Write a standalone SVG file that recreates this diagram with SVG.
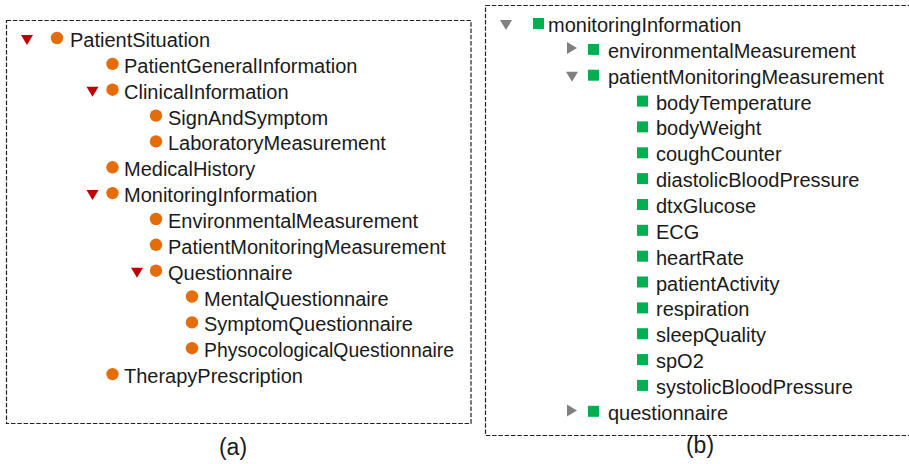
<svg xmlns="http://www.w3.org/2000/svg" width="909" height="464" viewBox="0 0 909 464">
<style>
text{font-family:"Liberation Sans",Arial,sans-serif;font-size:20px;fill:#1a1a1a}
.cap{font-size:23px}
.box{fill:none;stroke:#222;stroke-width:1.2;stroke-dasharray:4.5 1.8}
.dot{fill:#E46C0A}
.sq{fill:#00B050}
.tr{fill:#C00000}
.tg{fill:#808080}
</style>
<rect width="909" height="464" fill="#fff"/>
<rect class="box" x="6.5" y="20.5" width="464.5" height="403"/>
<rect class="box" x="485.5" y="5.5" width="430" height="430"/>
<g id="a-tree">
<g id="PatientSituation"><path class="tr" d="M21 35h12l-6 10z"/><circle class="dot" cx="57" cy="38" r="6.2"/><text x="70" y="47">PatientSituation</text></g>
<g id="PatientGeneralInformation"><circle class="dot" cx="112.5" cy="63.9" r="6.2"/><text x="124" y="72.9">PatientGeneralInformation</text></g>
<g id="ClinicalInformation"><path class="tr" d="M86.5 86.7h12l-6 10z"/><circle class="dot" cx="112.5" cy="89.7" r="6.2"/><text x="124" y="98.7">ClinicalInformation</text></g>
<g id="SignAndSymptom"><circle class="dot" cx="156" cy="115.6" r="6.2"/><text x="168" y="124.6">SignAndSymptom</text></g>
<g id="LaboratoryMeasurement"><circle class="dot" cx="156" cy="141.4" r="6.2"/><text x="168" y="150.4">LaboratoryMeasurement</text></g>
<g id="MedicalHistory"><circle class="dot" cx="112.5" cy="167.3" r="6.2"/><text x="124" y="176.3">MedicalHistory</text></g>
<g id="MonitoringInformation"><path class="tr" d="M86.5 190.1h12l-6 10z"/><circle class="dot" cx="112.5" cy="193.1" r="6.2"/><text x="124" y="202.1">MonitoringInformation</text></g>
<g id="EnvironmentalMeasurement"><circle class="dot" cx="156" cy="219" r="6.2"/><text x="168" y="228">EnvironmentalMeasurement</text></g>
<g id="PatientMonitoringMeasurement"><circle class="dot" cx="156" cy="244.8" r="6.2"/><text x="168" y="253.8">PatientMonitoringMeasurement</text></g>
<g id="Questionnaire"><path class="tr" d="M131 267.7h12l-6 10z"/><circle class="dot" cx="156" cy="270.7" r="6.2"/><text x="168" y="279.7">Questionnaire</text></g>
<g id="MentalQuestionnaire"><circle class="dot" cx="192" cy="296.5" r="6.2"/><text x="204" y="305.5">MentalQuestionnaire</text></g>
<g id="SymptomQuestionnaire"><circle class="dot" cx="192" cy="322.4" r="6.2"/><text x="204" y="331.4">SymptomQuestionnaire</text></g>
<g id="PhysocologicalQuestionnaire"><circle class="dot" cx="192" cy="348.2" r="6.2"/><text x="204" y="357.2" textLength="250" lengthAdjust="spacingAndGlyphs">PhysocologicalQuestionnaire</text></g>
<g id="TherapyPrescription"><circle class="dot" cx="112.5" cy="374.1" r="6.2"/><text x="124" y="383.1">TherapyPrescription</text></g>
</g>
<g id="b-tree">
<g id="monitoringInformation"><path class="tg" d="M500 20h12l-6 10z"/><rect class="sq" x="533" y="18" width="11" height="11"/><text x="548" y="32">monitoringInformation</text></g>
<g id="environmentalMeasurement"><path class="tg" d="M567 42v12l10-6z"/><rect class="sq" x="588" y="43.9" width="11" height="11"/><text x="608" y="57.9">environmentalMeasurement</text></g>
<g id="patientMonitoringMeasurement"><path class="tg" d="M566 71.7h12l-6 10z"/><rect class="sq" x="588" y="69.7" width="11" height="11"/><text x="608" y="83.7">patientMonitoringMeasurement</text></g>
<g id="bodyTemperature"><rect class="sq" x="637" y="95.6" width="11" height="11"/><text x="656" y="109.6">bodyTemperature</text></g>
<g id="bodyWeight"><rect class="sq" x="637" y="121.4" width="11" height="11"/><text x="656" y="135.4">bodyWeight</text></g>
<g id="coughCounter"><rect class="sq" x="637" y="147.3" width="11" height="11"/><text x="656" y="161.3">coughCounter</text></g>
<g id="diastolicBloodPressure"><rect class="sq" x="637" y="173.1" width="11" height="11"/><text x="656" y="187.1">diastolicBloodPressure</text></g>
<g id="dtxGlucose"><rect class="sq" x="637" y="199" width="11" height="11"/><text x="656" y="213">dtxGlucose</text></g>
<g id="ECG"><rect class="sq" x="637" y="224.8" width="11" height="11"/><text x="656" y="238.8">ECG</text></g>
<g id="heartRate"><rect class="sq" x="637" y="250.7" width="11" height="11"/><text x="656" y="264.7">heartRate</text></g>
<g id="patientActivity"><rect class="sq" x="637" y="276.5" width="11" height="11"/><text x="656" y="290.5">patientActivity</text></g>
<g id="respiration"><rect class="sq" x="637" y="302.4" width="11" height="11"/><text x="656" y="316.4">respiration</text></g>
<g id="sleepQuality"><rect class="sq" x="637" y="328.2" width="11" height="11"/><text x="656" y="342.2">sleepQuality</text></g>
<g id="spO2"><rect class="sq" x="637" y="354.1" width="11" height="11"/><text x="656" y="368.1">spO2</text></g>
<g id="systolicBloodPressure"><rect class="sq" x="637" y="379.9" width="11" height="11"/><text x="656" y="393.9">systolicBloodPressure</text></g>
<g id="questionnaire"><path class="tg" d="M567 404.6v12l10-6z"/><rect class="sq" x="588" y="405.8" width="11" height="11"/><text x="608" y="419.8">questionnaire</text></g>
</g>
<text class="cap" x="233" y="455" text-anchor="middle">(a)</text>
<text class="cap" x="700" y="453" text-anchor="middle">(b)</text>
</svg>
